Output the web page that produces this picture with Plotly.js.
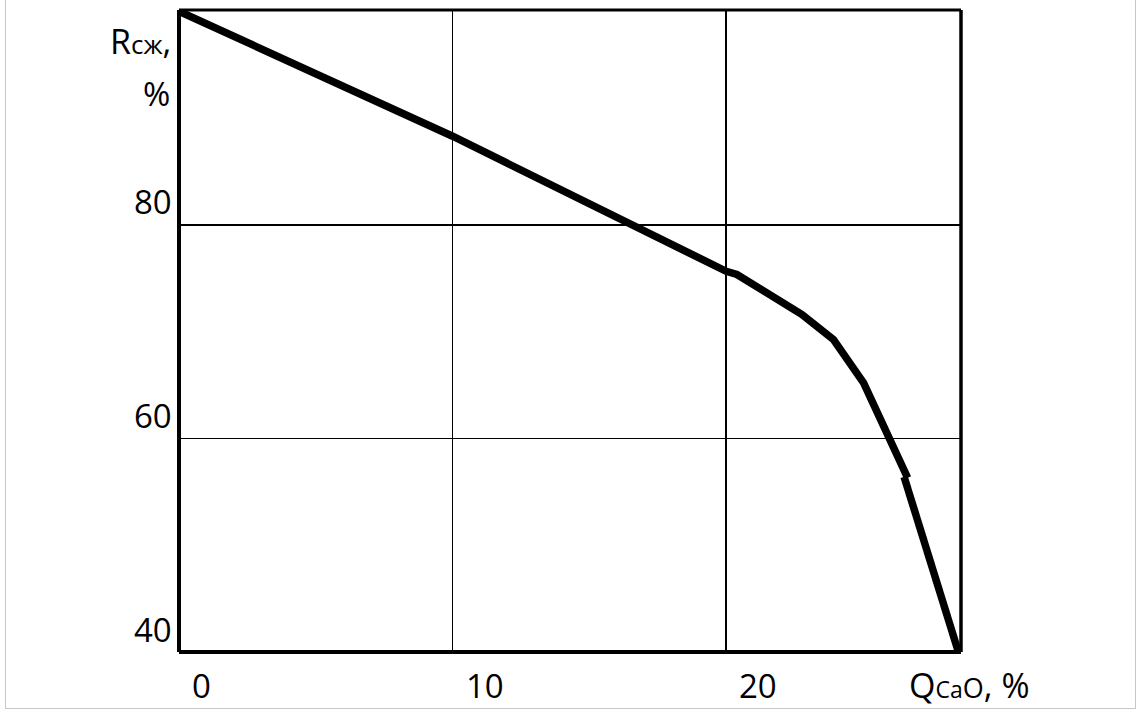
<!DOCTYPE html>
<html>
<head>
<meta charset="utf-8">
<script src="https://cdn.plot.ly/plotly-3.0.1.min.js"></script>
<style>
  html, body { margin: 0; padding: 0; background: #fff; }
  #wrap { position: relative; width: 1141px; height: 714px; overflow: hidden; }
  #chart { width: 1141px; height: 714px; }
  #frame { position: absolute; left: 5px; top: -3px; width: 1131px; height: 712px;
           border: 1.5px solid #c6c6c6; box-sizing: border-box; pointer-events: none; }
</style>
</head>
<body>
<div id="wrap">
  <div id="chart"></div>
  <div id="frame"></div>
</div>
<script>
// Data
const qCaO  = [0, 10, 20, 20.39, 22.77, 23.92, 25.02, 26.63, null, 26.5, 28.48];
const rComp = [100, 88.3, 75.65, 75.35, 71.6, 69.26, 65.2, 56.3, null, 56.4, 40.05];

const xTickVals = [0, 10, 20];
const xTickText = ['0', '10', '20'];
const yTickVals = [40, 60, 80];
const yTickText = ['40', '60', '80'];
const xGridVals = [10, 20];
const yGridVals = [60, 80];

const FONT = 'Open Sans, Noto Sans, Liberation Sans, sans-serif';
const TICK_SIZE = 33;

const annotations = [];
xTickVals.forEach((v, i) => annotations.push({
  x: v, xref: 'x', y: 0, yref: 'paper', text: xTickText[i], showarrow: false,
  xanchor: 'left', yanchor: 'middle', xshift: 11, yshift: -33,
  font: {family: FONT, size: TICK_SIZE, color: '#000'}
}));
yTickVals.forEach((v, i) => annotations.push({
  x: 0, xref: 'paper', y: v, yref: 'y', text: yTickText[i], showarrow: false,
  xanchor: 'right', yanchor: 'middle', xshift: -5, yshift: 23,
  font: {family: FONT, size: TICK_SIZE, color: '#000'}
}));
// axis titles
annotations.push({
  x: 0, xref: 'paper', y: 1, yref: 'paper', showarrow: false,
  text: 'R<span style="font-size:26px">сж</span>,',
  xanchor: 'right', yanchor: 'middle', xshift: -6, yshift: -31,
  font: {family: FONT, size: 34, color: '#000'}
});
annotations.push({
  x: 0, xref: 'paper', y: 1, yref: 'paper', showarrow: false,
  text: '%',
  xanchor: 'right', yanchor: 'middle', xshift: -7, yshift: -83,
  font: {family: FONT, size: 33, color: '#000'}
});
annotations.push({
  x: 1, xref: 'paper', y: 0, yref: 'paper', showarrow: false,
  text: 'Q<span style="font-size:23px">Ca</span><span style="font-size:27px">O</span>, %',
  xanchor: 'left', yanchor: 'middle', xshift: -54, yshift: -33,
  font: {family: FONT, size: 34, color: '#000'}
});

const shapes = [
  {type: 'line', xref: 'paper', yref: 'paper', x0: 0, x1: 1, y0: 1, y1: 1, line: {color: '#000', width: 3}},
  {type: 'line', xref: 'paper', yref: 'paper', x0: 1, x1: 1, y0: 0, y1: 1, line: {color: '#000', width: 3.5}},
  {type: 'line', xref: 'paper', yref: 'paper', x0: 0, x1: 0, y0: 0, y1: 1, line: {color: '#000', width: 4}},
  {type: 'line', xref: 'paper', yref: 'paper', x0: 0, x1: 1, y0: 0, y1: 0, line: {color: '#000', width: 4}}
];

const trace = {
  x: qCaO, y: rComp, type: 'scatter', mode: 'lines',
  line: {color: '#000', width: 7.5}, connectgaps: false, hoverinfo: 'skip'
};

const layout = {
  width: 1141, height: 714,
  margin: {l: 179, r: 180, t: 10, b: 62, pad: 0},
  paper_bgcolor: '#fff', plot_bgcolor: '#fff',
  showlegend: false,
  xaxis: {
    range: [0, 28.58], tickvals: xGridVals, showticklabels: false, ticks: '',
    showgrid: true, gridcolor: '#000', gridwidth: 1.6, zeroline: false, showline: false, fixedrange: true
  },
  yaxis: {
    range: [40, 100.12], tickvals: yGridVals, showticklabels: false, ticks: '',
    showgrid: true, gridcolor: '#000', gridwidth: 1.6, zeroline: false, showline: false, fixedrange: true
  },
  annotations: annotations,
  shapes: shapes
};

Plotly.newPlot('chart', [trace], layout, {displayModeBar: false, staticPlot: true});
</script>
</body>
</html>
